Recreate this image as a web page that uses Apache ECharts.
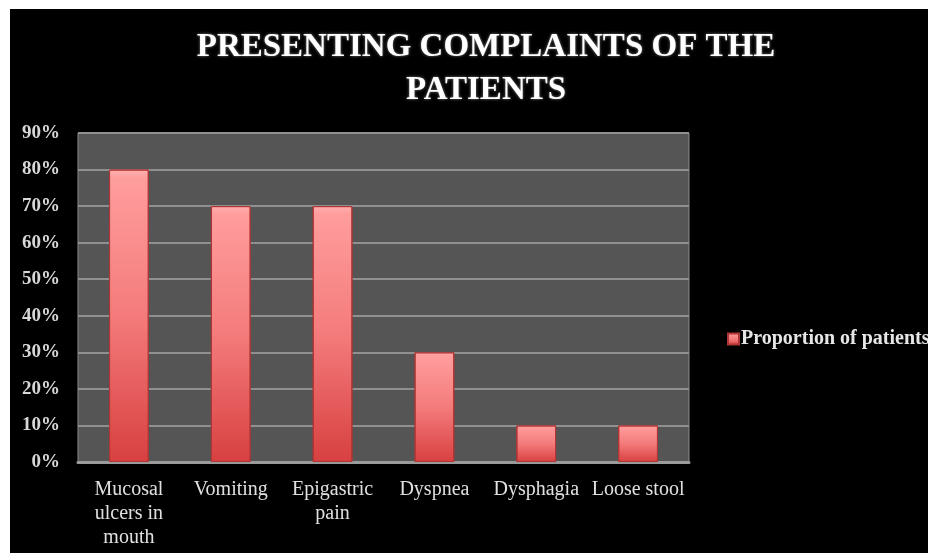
<!DOCTYPE html>
<html>
<head>
<meta charset="utf-8">
<script src="https://cdn.jsdelivr.net/npm/echarts@6/dist/echarts.min.js"></script>
<style>
  html, body { margin: 0; padding: 0; background: #fff; }
  #chart { position: absolute; left: 10px; top: 9px; width: 918px; height: 544px; }
</style>
</head>
<body>
<div id="chart"></div>
<script>
var categories = ['Mucosal\nulcers in\nmouth', 'Vomiting', 'Epigastric\npain', 'Dyspnea', 'Dysphagia', 'Loose stool'];
var proportions = [0.8, 0.7, 0.7, 0.3, 0.1, 0.1];
var seriesName = 'Proportion of patients';

var serif = '"Liberation Serif", "DejaVu Serif", serif';

var myChart = echarts.init(document.getElementById('chart'));
myChart.setOption({
    backgroundColor: '#000',
    title: {
        text: 'PRESENTING COMPLAINTS OF THE\nPATIENTS',
        left: 471,
        top: 12,
        textAlign: 'center',
        textStyle: {
            color: '#fff',
            fontFamily: serif,
            fontWeight: 'bold',
            fontSize: 33,
            lineHeight: 43,
            textShadowColor: 'rgba(160,160,160,0.8)',
            textShadowBlur: 3
        }
    },
    legend: {
        data: [seriesName],
        left: 712,
        top: 315,
        itemWidth: 11,
        itemHeight: 11,
        itemGap: 4,
        icon: 'rect',
        textStyle: {
            color: '#e6e6e6',
            fontFamily: serif,
            fontWeight: 'bold',
            fontSize: 20,
            padding: [0, 0, 0, -3]
        }
    },
    grid: {
        left: 68,
        right: 239,
        top: 124,
        bottom: 91,
        show: true,
        backgroundColor: '#555555',
        borderColor: '#8c8c8c',
        borderWidth: 1
    },
    xAxis: {
        type: 'category',
        data: categories,
        axisLine: { lineStyle: { color: '#9a9a9a', width: 3 } },
        axisTick: { show: false },
        axisLabel: {
            color: '#e0e0e0',
            fontFamily: serif,
            fontSize: 20,
            lineHeight: 24,
            margin: 16,
            interval: 0
        }
    },
    yAxis: {
        type: 'value',
        min: 0,
        max: 0.9,
        interval: 0.1,
        axisLine: { show: false },
        axisTick: { show: false },
        splitLine: { lineStyle: { color: '#909090', width: 2 } },
        axisLabel: {
            color: '#d8d8d8',
            fontFamily: serif,
            fontWeight: 'bold',
            fontSize: 19,
            margin: 18,
            formatter: function (v) { return Math.round(v * 100) + '%'; }
        }
    },
    series: [{
        name: seriesName,
        type: 'bar',
        data: proportions,
        barWidth: '39%',
        itemStyle: {
            color: new echarts.graphic.LinearGradient(0, 0, 0, 1, [
                { offset: 0, color: '#ffb0b0' },
                { offset: 0.03, color: '#ff9d9d' },
                { offset: 0.5, color: '#f47b7b' },
                { offset: 1, color: '#d84040' }
            ]),
            borderColor: '#b03535',
            borderWidth: 1
        }
    }]
});
</script>
</body>
</html>
